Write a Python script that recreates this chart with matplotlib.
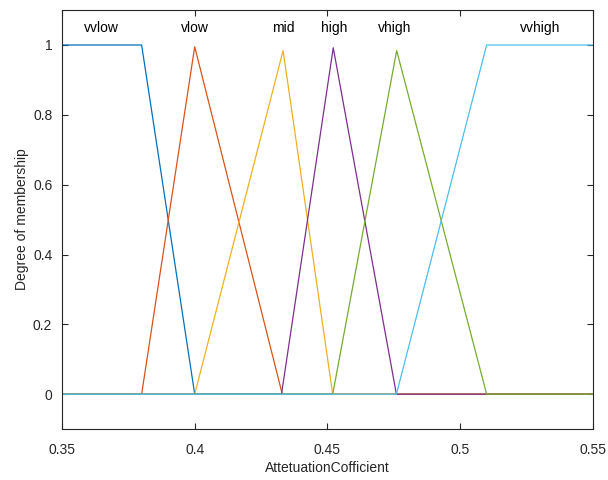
import matplotlib
matplotlib.use("Agg")
import matplotlib.pyplot as plt

plt.rcParams['font.family'] = ['Liberation Sans', 'DejaVu Sans']

# membership functions, breakpoints
mf_names = ['vvlow', 'vlow', 'mid', 'high', 'vhigh', 'vvhigh']
mf_x = [
    [0.35, 0.38, 0.40, 0.55],
    [0.35, 0.38, 0.40, 0.433, 0.55],
    [0.35, 0.40, 0.4333, 0.452, 0.55],
    [0.35, 0.4327, 0.4522, 0.476, 0.55],
    [0.35, 0.452, 0.4761, 0.510, 0.55],
    [0.35, 0.476, 0.510, 0.55],
]
mf_y = [
    [1, 1, 0, 0],
    [0, 0, 0.995, 0, 0],
    [0, 0, 0.984, 0, 0],
    [0, 0, 0.992, 0, 0],
    [0, 0, 0.984, 0, 0],
    [0, 0, 1, 1],
]
label_x = [0.365, 0.40, 0.4333, 0.4525, 0.4755, 0.530]
label_y = 1.05

colors = ['#0072BD', '#D95319', '#EDB120', '#7E2F8E', '#77AC30', '#4DBEEE']
axcol = '#262626'

fig = plt.figure(figsize=(6.08, 4.8), dpi=100)
ax = fig.add_axes([0.102, 0.106, 0.873, 0.873])

for i in range(len(mf_names)):
    ax.plot(mf_x[i], mf_y[i], color=colors[i], lw=0.9)
    ax.text(label_x[i], label_y, mf_names[i], ha='center', va='center',
            fontsize=10, color='black')

ax.set_xlim(0.35, 0.55)
ax.set_ylim(-0.1, 1.1)
ax.set_xticks([0.35, 0.4, 0.45, 0.5, 0.55])
ax.set_xticklabels(['0.35', '0.4', '0.45', '0.5', '0.55'])
ax.set_yticks([0, 0.2, 0.4, 0.6, 0.8, 1])
ax.set_yticklabels(['0', '0.2', '0.4', '0.6', '0.8', '1'])
ax.tick_params(direction='in', length=4, width=0.8, top=True, right=True,
               labelsize=10, colors=axcol, labelcolor=axcol)
ax.tick_params(axis='x', pad=10)
ax.tick_params(axis='y', pad=7)
for s in ax.spines.values():
    s.set_color(axcol)
    s.set_linewidth(0.8)

ax.set_xlabel('AttetuationCofficient', fontsize=10, color=axcol, labelpad=3)
ax.set_ylabel('Degree of membership', fontsize=10, color=axcol, labelpad=3)

fig.savefig('out.png', dpi=100)
